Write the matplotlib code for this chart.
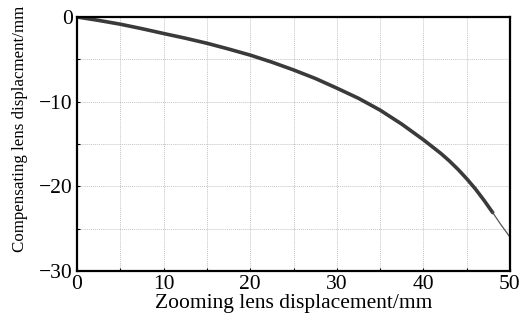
import matplotlib
matplotlib.use("Agg")
import matplotlib.pyplot as plt
from matplotlib.ticker import MultipleLocator

plt.rcParams['font.family'] = ['Liberation Serif', 'DejaVu Serif']
plt.rcParams['axes.unicode_minus'] = True

# zoom lens displacement (mm) vs compensating lens displacement (mm)
zoom_x = [0, 2.5, 5, 7.5, 10, 12.5, 15, 17.5, 20, 22.5, 25, 27.5, 30,
          32.5, 35, 37.5, 40, 41, 42, 43, 44, 45, 46, 47, 48]
comp_y = [0, -0.4, -0.85, -1.38, -1.95, -2.5, -3.1, -3.78, -4.5, -5.33, -6.25, -7.25, -8.4,
          -9.6, -11.0, -12.65, -14.5, -15.3, -16.1, -17.0, -18.0, -19.1, -20.3, -21.65, -23.1]
tail_x = [48, 49, 50]
tail_y = [-23.1, -24.6, -26.0]

x_ticks = [0, 10, 20, 30, 40, 50]
y_ticks = [0, -10, -20, -30]

fig = plt.figure(figsize=(5.23, 3.23), dpi=100)
ax = fig.add_axes([77 / 523, 1 - 271 / 323, 433 / 523, 254 / 323])

ax.plot(zoom_x, comp_y, color='#3a3a3a', lw=2.6, solid_capstyle='round',
        solid_joinstyle='round')
ax.plot(tail_x, tail_y, color='#555555', lw=0.9)

ax.set_xlim(0, 50)
ax.set_ylim(-30, 0)
ax.set_xticks(x_ticks)
ax.set_yticks(y_ticks)
ax.xaxis.set_minor_locator(MultipleLocator(5))
ax.yaxis.set_minor_locator(MultipleLocator(5))
ax.grid(which='both', color='#c4c4c4', linestyle=(0, (1, 1)), lw=0.7)
ax.tick_params(which='both', direction='in', length=2, width=0.8, labelsize=15.5, pad=3)
for s in ax.spines.values():
    s.set_linewidth(1.6)

ax.set_xlabel('Zooming lens displacement/mm', fontsize=15.5, labelpad=0)
ax.set_ylabel('Compensating lens displacment/mm', fontsize=12.2)
ax.yaxis.set_label_coords(-0.113, 0.561)

fig.savefig('out.png', dpi=100)
